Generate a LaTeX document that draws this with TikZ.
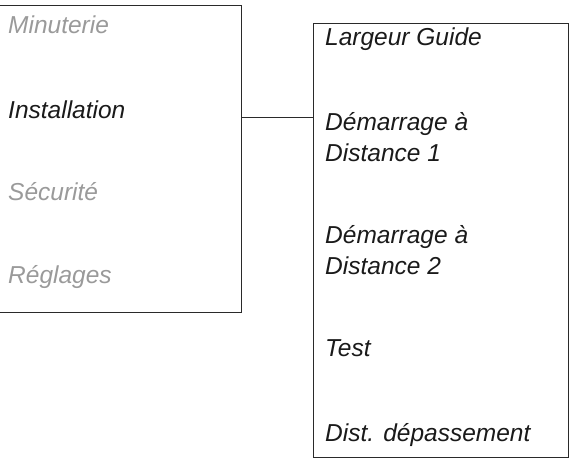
\documentclass[tikz,border=0pt]{standalone}
\usepackage{fontspec}
\setmainfont{Liberation Sans}
\definecolor{boxgray}{HTML}{2A2A2A}
\definecolor{itemgray}{HTML}{9A9A9A}
\definecolor{itemblack}{HTML}{1A1A1A}
\begin{document}
\begin{tikzpicture}[x=1pt,y=-1pt,
    box/.style={draw=boxgray,line width=1.1pt,inner sep=0pt},
    item/.style={anchor=base west,inner sep=0pt,align=left,text=itemblack,
      font=\fontsize{24.5}{31}\selectfont\itshape},
    off/.style={item,text=itemgray}]
    \useasboundingbox (0,0) rectangle (573,459);
    \begin{scope}
        \clip (0,0) rectangle (573,459);
        \node[box,minimum width=252pt,minimum height=307pt,anchor=north east] (menu) at (242,5) {};
    \end{scope}
    \node[box,minimum width=255pt,minimum height=434pt,anchor=north west] (sub) at (313,23) {};
    \node[off] (minuterie) at (8,33) {Minuterie};
    \node[item] (installation) at (8,118) {Installation};
    \node[off] (securite) at (8,200) {Sécurité};
    \node[off] (reglages) at (8,283) {Réglages};
    \node[item] (largeur) at (325,45) {Largeur Guide};
    \node[item] (demarrage1) at (325,161) {Démarrage à\\Distance 1};
    \node[item] (demarrage2) at (325,274) {Démarrage à\\Distance 2};
    \node[item] (test) at (325,356) {Test};
    \node[item] (depassement) at (325,441) {Dist. dépassement};
    \coordinate (link) at (0,117);
    \draw[box,line width=0.9pt] (menu.east |- link) -- (sub.west |- link);
\end{tikzpicture}
\end{document}
